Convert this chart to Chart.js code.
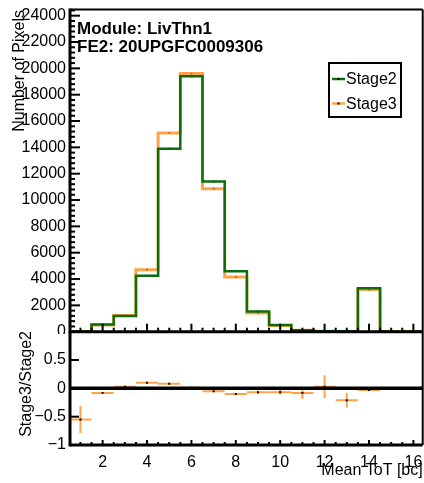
<!DOCTYPE html>
<html>
<head>
<meta charset="utf-8">
<script src="https://cdn.jsdelivr.net/npm/chart.js@4"></script>
<style>
  html, body { margin: 0; padding: 0; background: #fff; }
  #wrap { position: relative; width: 424px; height: 483px; overflow: hidden; }
  #topPad { position: absolute; left: 0; top: 0; }
  #bottomPad { position: absolute; left: 0; top: 331px; }
</style>
</head>
<body>
<div id="wrap">
  <canvas id="topPad" width="424" height="334"></canvas>
  <canvas id="bottomPad" width="424" height="152"></canvas>
</div>
<script>
// histogram bins (Mean ToT, bin centres)
const bins = [1, 2, 3, 4, 5, 6, 7, 8, 9, 10, 11, 12, 13, 14, 15, 16];
const stage2 = [11, 550, 1200, 4250, 13900, 19400, 11400, 4600, 1530, 515, 110, 40, 25, 3300, 0, 0];
const stage3 = [5, 505, 1236, 4700, 15100, 19600, 10850, 4150, 1425, 480, 101, 41, 20, 3200, 0, 0];

// ratio pad (Stage3/Stage2 - 1)
const ratioBins = [1, 2, 3, 4, 5, 6, 7, 8, 9, 10, 11, 12, 13, 14];
const ratio = [-0.55, -0.08, 0.03, 0.10, 0.08, 0.01, -0.05, -0.10, -0.07, -0.07, -0.08, 0.03, -0.21, -0.03];
const ratioErr = [0.24, 0.02, 0.015, 0.01, 0.01, 0.01, 0.01, 0.015, 0.025, 0.04, 0.11, 0.2, 0.13, 0.02];

const yTicksTop = [0, 2000, 4000, 6000, 8000, 10000, 12000, 14000, 16000, 18000, 20000, 22000, 24000];
const yTicksBottom = [-1, -0.5, 0, 0.5];
const xTicks = [2, 4, 6, 8, 10, 12, 14, 16];

const GREEN = "#0b6e0b";
const ORANGE = "rgba(255, 140, 30, 0.8)";
const FONT = "'Liberation Sans', Arial, sans-serif";
const X_MIN = 0.53, X_MAX = 16.42;

function stepPoints(vals) {
    const pts = bins.map((b, i) => ({ x: b - 0.5, y: vals[i] }));
    pts.push({ x: bins[bins.length - 1] + 0.5, y: 0 });
    return pts;
}

function line(ctx, x1, y1, x2, y2, w, c) {
    ctx.beginPath();
    ctx.lineWidth = w;
    ctx.strokeStyle = c || "#000";
    ctx.moveTo(x1, y1);
    ctx.lineTo(x2, y2);
    ctx.stroke();
}

function drawXTicks(ctx, chart, yBase, majorLen, minorLen) {
    const x = chart.scales.x;
    for (let v = 0.5; v <= 16.5; v += 0.5) {
        if (v < X_MIN || v > X_MAX) continue;
        const px = x.getPixelForValue(v);
        const len = v % 2 === 0 ? majorLen : minorLen;
        line(ctx, px, yBase, px, yBase - len, 2);
    }
}

// no extra room for the first / last tick label
function noPad(s) {
    s.paddingTop = 0;
    s.paddingBottom = 0;
    s.paddingLeft = 0;
    s.paddingRight = 0;
}

const topFrame = {
    id: "topFrame",
    afterDraw(chart) {
        const { ctx, chartArea: a, scales } = chart;
        ctx.save();
        // frame
        line(ctx, a.left, a.top, a.right, a.top, 2);
        line(ctx, a.right, a.top, a.right, a.bottom, 2);
        line(ctx, a.left, a.top - 1, a.left, a.bottom + 1.5, 3);
        line(ctx, a.left, a.bottom, a.right, a.bottom, 3);
        // y ticks (inside)
        for (let v = 0; v <= scales.y.max; v += 400) {
            const py = scales.y.getPixelForValue(v);
            line(ctx, a.left, py, a.left + (v % 2000 === 0 ? 10 : 5), py, 2);
        }
        drawXTicks(ctx, chart, a.bottom, 8, 4);

        // header text
        ctx.fillStyle = "#000";
        ctx.font = "bold 17px " + FONT;
        ctx.textAlign = "left";
        ctx.textBaseline = "alphabetic";
        ctx.fillText("Module: LivThn1", 77, 34);
        ctx.fillText("FE2: 20UPGFC0009306", 77, 52);

        // y title
        ctx.save();
        ctx.translate(24, 10);
        ctx.rotate(-Math.PI / 2);
        ctx.font = "16px " + FONT;
        ctx.textAlign = "right";
        ctx.textBaseline = "alphabetic";
        ctx.fillText("Number of Pixels", 0, 0);
        ctx.restore();

        // legend
        ctx.fillStyle = "#fff";
        ctx.fillRect(329, 63, 72, 54);
        ctx.lineWidth = 2;
        ctx.strokeStyle = "#000";
        ctx.strokeRect(329, 63, 72, 54);
        const entries = [["Stage2", GREEN, 79], ["Stage3", ORANGE, 103.5]];
        ctx.font = "16px " + FONT;
        ctx.textBaseline = "middle";
        entries.forEach(([label, col, y]) => {
            line(ctx, 332, y, 345, y, 2.5, col);
            ctx.fillStyle = "#000";
            ctx.fillRect(337.5, y - 1, 2, 2);
            ctx.fillText(label, 346, y + 1);
        });
        ctx.restore();
    },
};

const bottomFrame = {
    id: "bottomFrame",
    beforeDatasetsDraw(chart) {
        const { ctx, chartArea: a, scales } = chart;
        ctx.save();
        ctx.beginPath();
        ctx.rect(a.left, a.top, a.right - a.left, a.bottom - a.top);
        ctx.clip();
        ratioBins.forEach((b, i) => {
            const x1 = scales.x.getPixelForValue(b - 0.5);
            const x2 = scales.x.getPixelForValue(b + 0.5);
            const xc = scales.x.getPixelForValue(b);
            const yc = scales.y.getPixelForValue(ratio[i]);
            const y1 = scales.y.getPixelForValue(ratio[i] - ratioErr[i]);
            const y2 = scales.y.getPixelForValue(ratio[i] + ratioErr[i]);
            line(ctx, x1, yc, x2, yc, 2, ORANGE);
            line(ctx, xc, y1, xc, y2, 2, ORANGE);
        });
        const y0 = scales.y.getPixelForValue(0);
        line(ctx, a.left, y0, a.right, y0, 3.5);
        ctx.restore();
    },
    afterDraw(chart) {
        const { ctx, chartArea: a, scales } = chart;
        ctx.save();
        line(ctx, a.left, a.top, a.right, a.top, 2);
        line(ctx, a.right, a.top, a.right, a.bottom, 2);
        line(ctx, a.left, a.top, a.left, a.bottom + 1.5, 3);
        line(ctx, a.left, a.bottom, a.right, a.bottom, 3);
        [-0.5, 0, 0.5].forEach(v => {
            const py = scales.y.getPixelForValue(v);
            line(ctx, a.left, py, a.left + 9, py, 2);
        });
        drawXTicks(ctx, chart, a.bottom, 5, 3);

        ctx.fillStyle = "#000";
        ctx.font = "16px " + FONT;
        ctx.textAlign = "right";
        ctx.textBaseline = "middle";
        ctx.fillText("Mean ToT [bc]", a.right, 140);

        ctx.save();
        ctx.translate(31, 0);
        ctx.rotate(-Math.PI / 2);
        ctx.textBaseline = "alphabetic";
        ctx.fillText("Stage3/Stage2", 0, 0);
        ctx.restore();
        ctx.restore();
    },
};

Chart.defaults.font.family = FONT;
Chart.defaults.color = "#000";

new Chart(document.getElementById("topPad").getContext("2d"), {
    type: "line",
    data: {
        datasets: [
            {
                label: "Stage2",
                data: stepPoints(stage2),
                stepped: true,
                borderColor: GREEN,
                borderWidth: 2.5,
                pointRadius: 0,
                fill: false,
            },
            {
                label: "Stage3",
                data: stepPoints(stage3),
                stepped: true,
                borderColor: ORANGE,
                borderWidth: 3,
                pointRadius: 0,
                fill: false,
            },
            {
                label: "m2",
                data: bins.map((b, i) => ({ x: b, y: stage2[i] })),
                showLine: false,
                pointStyle: "rect",
                pointRadius: 1.4,
                pointBackgroundColor: "#000",
                pointBorderWidth: 0,
            },
            {
                label: "m3",
                data: bins.map((b, i) => ({ x: b, y: stage3[i] })),
                showLine: false,
                pointStyle: "rect",
                pointRadius: 1.4,
                pointBackgroundColor: "#000",
                pointBorderWidth: 0,
            },
        ],
    },
    options: {
        responsive: false,
        animation: false,
        layout: { autoPadding: false, padding: { left: 0, top: 9.5, right: 1.3, bottom: 2.3 } },
        plugins: { legend: { display: false }, tooltip: { enabled: false } },
        scales: {
            x: { type: "linear", min: X_MIN, max: X_MAX, display: false },
            y: {
                type: "linear",
                min: 0,
                max: 24470,
                afterFit: s => { s.width = 70; noPad(s); },
                afterBuildTicks: s => { s.ticks = yTicksTop.map(v => ({ value: v })); },
                grid: { display: false, drawTicks: false },
                border: { display: false },
                ticks: { padding: 4, font: { size: 16 }, callback: v => String(v) },
            },
        },
    },
    plugins: [topFrame],
});

new Chart(document.getElementById("bottomPad").getContext("2d"), {
    type: "scatter",
    data: {
        datasets: [
            {
                label: "ratio",
                data: ratioBins.map((b, i) => ({ x: b, y: ratio[i] })),
                pointStyle: "rect",
                pointRadius: 1.4,
                pointBackgroundColor: "#000",
                pointBorderWidth: 0,
            },
        ],
    },
    options: {
        responsive: false,
        animation: false,
        layout: { autoPadding: false, padding: { left: 0, top: 0.7, right: 1.3, bottom: 0 } },
        plugins: { legend: { display: false }, tooltip: { enabled: false } },
        scales: {
            x: {
                type: "linear",
                min: X_MIN,
                max: X_MAX,
                afterFit: s => { s.height = 38; noPad(s); },
                afterBuildTicks: s => { s.ticks = xTicks.map(v => ({ value: v })); },
                grid: { display: false, drawTicks: false },
                border: { display: false },
                ticks: { padding: 8, maxRotation: 0, font: { size: 16 }, callback: v => String(v) },
            },
            y: {
                type: "linear",
                min: -1,
                max: 1,
                afterFit: s => { s.width = 70; noPad(s); },
                afterBuildTicks: s => { s.ticks = yTicksBottom.map(v => ({ value: v })); },
                grid: { display: false, drawTicks: false },
                border: { display: false },
                ticks: { padding: 4, font: { size: 16 }, callback: v => String(v).replace("-", "\u2212") },
            },
        },
    },
    plugins: [bottomFrame],
});
</script>
</body>
</html>
